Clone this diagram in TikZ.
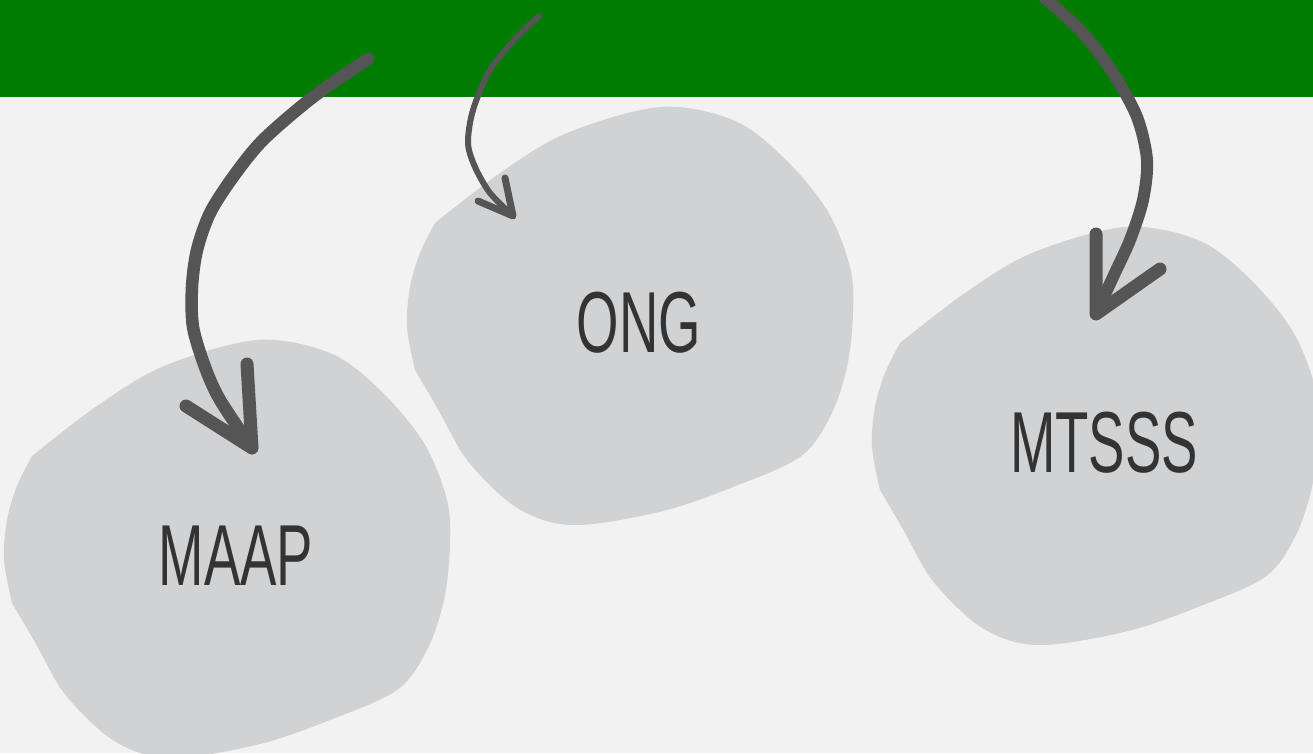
\documentclass[tikz,border=0pt]{standalone}
\usepackage{fontspec}
\setmainfont{Liberation Sans}
\definecolor{bgc}{HTML}{F2F2F2}
\definecolor{bandc}{HTML}{007D00}
\definecolor{blobc}{HTML}{D1D2D4}
\definecolor{inkc}{HTML}{333333}
\definecolor{arrowc}{HTML}{555555}
\tikzset{
  blobshape/.style={fill=blobc, draw=none},
  lbl/.style={text=inkc, inner sep=0pt, font=\fontsize{86.6}{90}\selectfont},
  hand/.style={draw=arrowc, line cap=round, line join=round},
}
\newcommand{\condtext}[1]{\scalebox{0.63}[1]{#1}}
\begin{document}
\begin{tikzpicture}[x=1pt,y=-1pt]
\useasboundingbox (0,0) rectangle (1313,753);
\clip (0,0) rectangle (1313,753);
\fill[bgc] (0,0) rectangle (1313,753);
\fill[bandc] (0,0) rectangle (1313,97);
% blobs
\foreach \cx/\cy in {639/323, 236/556, 1104/443}{
  \fill[blobshape, shift={(\cx,\cy)}]
    plot[smooth, tension=0.55] coordinates {
    (-204,-100) (-139,-150) (-72,-190) (21,-216) (94,-203) (144,-166)
    (188,-113) (211,-56) (214,-10) (208,44) (191,94) (161,134)
    (94,164) (28,187) (-46,201) (-89,199) (-129,180) (-172,137)
    (-200,88) (-224,47)}
    -- plot[smooth, tension=0.55] coordinates {
    (-224,47) (-232,4) (-229,-36) (-219,-70) (-204,-100)} -- cycle;
}
% labels
\node[lbl] (ong) at (639,323) {\condtext{ONG}};
\node[lbl] (maap) at (236,556) {\condtext{MAAP}};
\node[lbl] (mtsss) at (1104,443) {\condtext{MTSSS}};
% arrow to MAAP
\coordinate (a1s) at (368,59);
\coordinate (a1t) at (252,448);
\draw[hand, line width=12.5] plot[smooth] coordinates {(a1s) (313,97) (263,140) (233,177) (210,213) (197,250) (192,287) (193,327) (205,367) (220,400) (a1t)};
\draw[hand, line width=13] (186,406) -- (a1t) -- (247,364);
% arrow to ONG
\coordinate (a2s) at (539,16);
\coordinate (a2t) at (513,216);
\draw[hand, line width=6] plot[smooth] coordinates {(a2s) (517,37) (490,70) (473,110) (468,143) (475,167) (490,193) (a2t)};
\draw[hand, line width=7] (478,201) -- (a2t) -- (505,178);
% arrow to MTSSS
\coordinate (a3s) at (1030,-15);
\coordinate (a3t) at (1096,314);
\draw[hand, line width=12] plot[smooth] coordinates {(a3s) (1080,30) (1113,73) (1137,117) (1147,160) (1143,200) (1130,240) (1113,277) (a3t)};
\draw[hand, line width=13] (1096,234) -- (a3t) -- (1160,269);
\end{tikzpicture}
\end{document}
